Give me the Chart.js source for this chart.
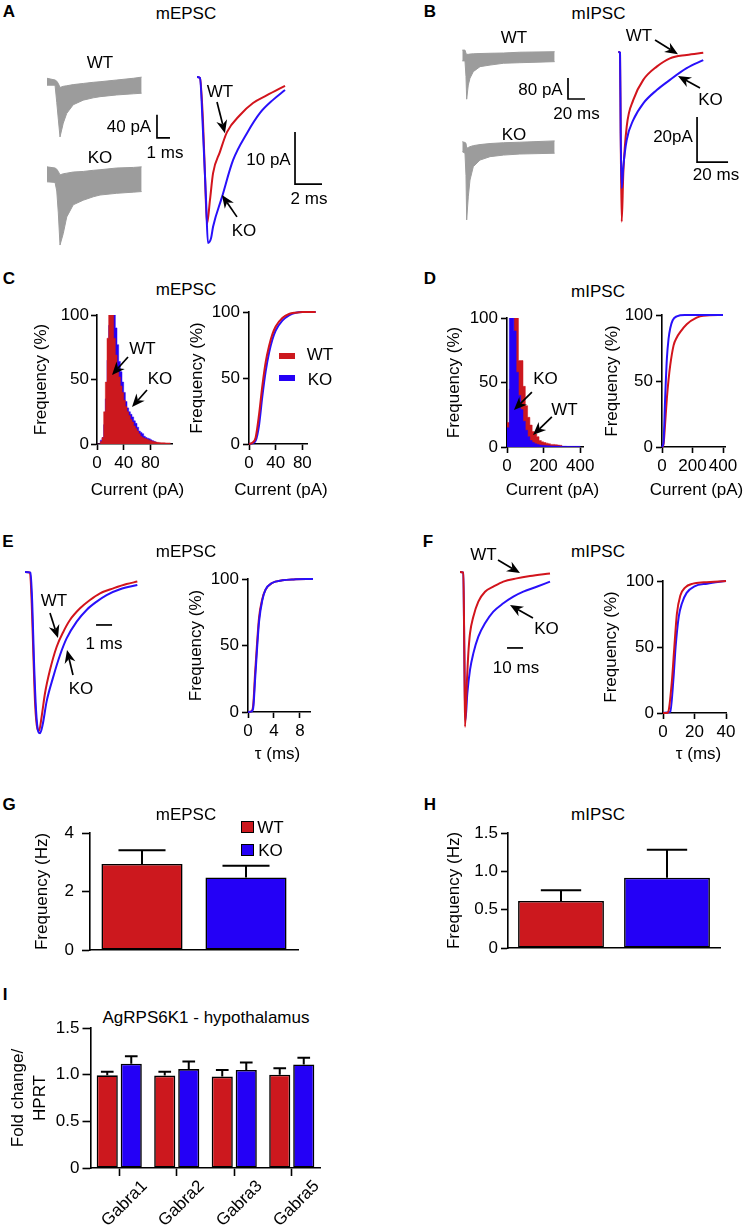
<!DOCTYPE html>
<html><head><meta charset="utf-8">
<script src="https://cdn.jsdelivr.net/npm/chart.js@4.4.1/dist/chart.umd.min.js"></script>
<style>
html,body{margin:0;padding:0;background:#fff;}
#fig{position:relative;width:747px;height:1225px;overflow:hidden;font-family:"Liberation Sans",Arial,Helvetica,sans-serif;color:#000;background:#fff;}
canvas{position:absolute;}
.t{position:absolute;transform:translate(-50%,-50%);white-space:nowrap;font-size:17px;line-height:1;}
.pl{font-weight:bold;}
.sw{position:absolute;box-sizing:border-box;}
</style></head><body><div id="fig"></div>
<script>
// ================= DATA =================
// Panel A: mEPSC example traces (time ms, current pA)
const famA_t     = [0, 0.62, 0.75, 0.87, 1.0, 1.25, 1.52, 2.02, 2.79, 3.56, 4.08, 5.36, 6.64, 7.28];
const famA_WT_hi = [3, 0, -2, -6, -13, -11, -10, -8, -6, -4, -3, 0, 3, 5];
const famA_WT_lo = [-9, -9, -39, -68, -99, -75, -58, -43, -35, -31, -29, -26, -24, -23];
const famA_KO_hi = [2, 0, -2, -6, -12, -10, -9, -7, -6, -4, -3, 0, 1, 2];
const famA_KO_lo = [-24, -25, -40, -78, -134, -114, -85, -64, -56, -50, -47, -44, -42, -41];
const avgA_WT_t  = [0, 0.22, 0.44, 0.59, 0.74, 0.96, 1.19, 1.70, 2.22, 3.19, 4.15, 5.19, 6.52];
const avgA_WT_i  = [0, -0.2, -8.3, -18.8, -28.3, -23.7, -18.5, -14.4, -10.6, -7.3, -5.0, -3.5, -1.7];
const avgA_KO_t  = [0, 0.22, 0.44, 0.67, 0.81, 1.04, 1.19, 1.85, 2.67, 3.70, 4.67, 5.63, 6.52];
const avgA_KO_i  = [0, -0.2, -10.2, -23.7, -31.9, -31.0, -28.8, -23.1, -16.0, -10.8, -6.9, -4.4, -2.5];

// Panel B: mIPSC example traces (time ms, current pA)
const famB_t     = [0.35, 3.5, 4.7, 5.5, 7.4, 9.4, 13.3, 21.2, 33, 49, 68, 109];
const famB_WT_hi = [11, 11, -1, -5, -5, -4, -3, -2, -1, 0, 3, 5];
const famB_WT_lo = [-30, -30, -90, -176, -122, -96, -71, -52, -46, -39, -37, -33];
const famB_KO_hi = [5, 2, -1, -20, -17, -14, -10, -6, -2, 1, 3, 8];
const famB_KO_lo = [-33, -39, -125, -293, -205, -141, -90, -65, -52, -46, -42, -39];
const avgB_t     = [0.2, 1.3, 1.74, 2.39, 3.42, 5.61, 9.87, 16.3, 25.0, 33.5, 44.3, 55.0];
const avgB_WT_i  = [0, -0.3, -36, -75.4, -53.9, -33.2, -21.3, -12.4, -6.5, -2.8, -1.3, -0.3];
const avgB_KO_i  = [0, -0.3, -36, -60.6, -51.0, -39.1, -30.2, -22.8, -16.9, -12.4, -7.2, -3.6];

// Panel C: mEPSC amplitude histogram (bin left edge, pA) and cumulative
const histC_bins = [0,2.5,5,7.5,10,12.5,15,17.5,20,22.5,25,27.5,30,32.5,35,37.5,40,42.5,45,47.5,50,52.5,55,57.5,60,62.5,65,67.5,70,72.5,75,77.5,80,82.5,85,87.5,90,92.5,95,97.5,100,102.5,105,107.5,110];
const histC_WT   = [0,0,2,5,25,48,82,104,118,108,82,69,58,52,45,40,34,29,25,22,19,17,14,12,10,8,6,5,4.5,4,3.5,3,2.6,2.2,1.8,1.5,1.3,1.2,1,1,0.9,0.8,0.8,0.8,0];
const histC_KO   = [0,0,3,5,15,35,65,92,106,112,100,90,77,64,56,48,40,33,28,25,23,21,18,16,13,10,9,8,6,5,4.5,4,3.2,2.6,2,1.3,0.8,0.5,0,0,0,0,0,0,0];
const cumC_x     = [0, 5, 10, 15, 20, 25, 30, 35, 40, 50, 60, 70, 80, 100];
const cumC_WT    = [0, 1, 5, 22, 44, 62, 74, 83, 89, 95.5, 98.5, 99.5, 100, 100];
const cumC_KO    = [0, 0.5, 2.5, 14, 36, 55, 69, 79, 86, 93.5, 97.5, 99.5, 100, 100];

// Panel D: mIPSC amplitude histogram and cumulative
const histD_bins = [0,12.5,25,37.5,50,62.5,75,87.5,100,112.5,125,137.5,150,162.5,175,187.5,200,212.5,225,237.5,250,262.5,275,287.5,300,312.5,325,337.5,350,362.5,375,387.5,400];
const histD_WT   = [19,45,80,105,110,67,67,47,32,23,17,12,10,8,5,4,3.5,3,2.5,2,2,1.8,1.5,1.3,0,0,0,0,0,0,0,0,0];
const histD_KO   = [15,130,140,90,58,40,29,20,13,8,5,3.5,2.6,2,1.5,1.3,1.2,1,0.9,0.8,0.8,0.7,0.7,0.6,0.6,0.6,0.5,0.5,0.5,0.5,0.5,0.5,0];
const cumD_WT_x  = [0, 5, 11, 20, 32, 43, 54, 76, 97, 119, 162, 227, 270, 400];
const cumD_WT    = [0, 0.5, 3, 17, 37, 51, 62, 77, 83, 87, 93, 98, 99.5, 100];
const cumD_KO_x  = [0, 5, 11, 20, 32, 43, 54, 70, 97, 150, 400];
const cumD_KO    = [0, 1, 5, 35, 67, 82, 90, 96, 99, 100, 100];

// Panel E: normalized mEPSC (time ms) and decay tau cumulative
const trE_WT_t = [0, 0.31, 0.42, 0.52, 0.63, 0.77, 0.88, 1.04, 1.25, 1.56, 1.98, 2.40, 2.81, 3.44, 4.06, 4.69, 5.52, 6.35, 7.02];
const trE_WT_i = [0, -0.004, -0.196, -0.508, -0.821, -0.977, -0.992, -0.904, -0.758, -0.613, -0.467, -0.373, -0.300, -0.227, -0.175, -0.133, -0.102, -0.075, -0.060];
const trE_KO_t = [0, 0.35, 0.46, 0.56, 0.69, 0.83, 0.94, 1.10, 1.35, 1.77, 2.19, 2.60, 3.23, 3.85, 4.48, 5.10, 5.94, 7.02];
const trE_KO_i = [0, -0.004, -0.217, -0.550, -0.863, -0.998, -1.008, -0.956, -0.810, -0.654, -0.519, -0.415, -0.310, -0.237, -0.185, -0.144, -0.108, -0.081];
const cumE_x   = [0, 0.5, 0.8, 1.1, 1.4, 1.7, 2.2, 2.7, 3.7, 5.3, 7, 10];
const cumE_WT  = [0, 0.5, 5, 30, 52, 71, 85, 92, 97, 99, 99.7, 100];
const cumE_KO  = [0, 0.3, 3, 25, 48, 68, 84, 92, 97, 99, 99.7, 100];

// Panel F: normalized mIPSC (time ms) and decay tau cumulative
const trF_WT_t = [0, 2.08, 2.71, 3.13, 4.17, 5.21, 6.25, 8.33, 11.46, 15.63, 20.83, 27.08, 35.42, 43.75, 56.25];
const trF_WT_i = [0, -0.004, -0.525, -0.998, -0.74, -0.525, -0.396, -0.288, -0.191, -0.127, -0.095, -0.062, -0.041, -0.026, -0.009];
const trF_KO_t = [0, 2.08, 2.71, 3.33, 4.58, 6.25, 8.33, 11.46, 15.63, 20.83, 27.08, 33.33, 39.58, 47.92, 56.25];
const trF_KO_i = [0, -0.004, -0.525, -0.96, -0.783, -0.632, -0.525, -0.417, -0.331, -0.256, -0.202, -0.159, -0.127, -0.095, -0.062];
const cumF_WT_x = [0, 2.5, 3.6, 5.7, 7.2, 8.8, 11, 14, 19, 26, 40];
const cumF_WT   = [0, 0, 2, 25, 50, 75, 89, 95, 98, 99, 100];
const cumF_KO_x = [0, 2.5, 4.6, 6.7, 8, 10, 12, 15, 20, 28, 40];
const cumF_KO   = [0, 0.3, 1, 27, 50, 73, 83, 91, 96, 98, 100];

// Panels G, H: frequency (Hz), mean and SEM
const groups = ['WT', 'KO'];
const freqG = [2.94, 2.48], semG = [0.47, 0.40];
const freqH = [0.613, 0.917], semH = [0.139, 0.366];

// Panel I: fold change / HPRT
const genes  = ['Gabra1', 'Gabra2', 'Gabra3', 'Gabra5'];
const foldWT = [0.993, 0.99, 0.98, 1.0], semWT = [0.037, 0.04, 0.07, 0.07];
const foldKO = [1.118, 1.06, 1.05, 1.11], semKO = [0.078, 0.08, 0.08, 0.07];

// Tick values
const ticksPct = [0, 50, 100];
const ticksC = [0, 40, 80];
const ticksD = [0, 200, 400];
const ticksE = [0, 4, 8];
const ticksF = [0, 20, 40];
const ticksG = [0, 2, 4];
const ticksHI = [0, 0.5, 1, 1.5];

// Scale bars (data units)
const sbA_fam = {x: 8.46, y: -100.6, dx: 1, dy: 40};
const sbA_avg = {x: 7.26, y: -20.6, dx: 2, dy: 10};
const sbB_fam = {x: 124.7, y: -175.2, dx: 20, dy: 80};
const sbB_avg = {x: 51, y: -48.9, dx: 20, dy: 20};
const sbE = {x: 4.44, y: -0.331, dx: 1, dy: 0};
const sbF = {x: 29.4, y: -0.49, dx: 10, dy: 0};

// ================= STYLE / HELPERS =================
const RED = 'rgb(204,24,30)', BLUE = 'rgb(36,0,246)', GRAY = 'rgb(156,156,156)';
const REDL = 'rgb(210,20,28)', BLUEL = 'rgb(40,16,250)';
Chart.defaults.font.family = '"Liberation Sans", Arial, Helvetica, sans-serif';
Chart.defaults.font.size = 17;
Chart.defaults.color = '#000';
Chart.defaults.animation = false;
Chart.defaults.responsive = false;
Chart.defaults.devicePixelRatio = 1;
Chart.defaults.plugins.legend.display = false;
Chart.defaults.plugins.tooltip.enabled = false;
Chart.defaults.events = [];
Chart.defaults.elements.point.radius = 0;

const arrowPlugin = {
  id: 'arrows',
  afterDatasetsDraw(chart, args, opts) {
    const items = (opts && opts.items) || [];
    if (!items.length) return;
    const {ctx} = chart; const xs = chart.scales.x, ys = chart.scales.y;
    ctx.save(); ctx.strokeStyle = '#000'; ctx.fillStyle = '#000'; ctx.lineWidth = 1.7;
    for (const a of items) {
      const x1 = xs.getPixelForValue(a.from[0]), y1 = ys.getPixelForValue(a.from[1]);
      const x2 = xs.getPixelForValue(a.to[0]), y2 = ys.getPixelForValue(a.to[1]);
      const ang = Math.atan2(y2 - y1, x2 - x1), c = Math.cos(ang), s = Math.sin(ang);
      const L = 13, W = 5.5, N = 9;
      const bx = x2 - L * c, by = y2 - L * s, nx = x2 - N * c, ny = y2 - N * s;
      ctx.beginPath(); ctx.moveTo(x1, y1); ctx.lineTo(nx, ny); ctx.stroke();
      ctx.beginPath(); ctx.moveTo(x2, y2);
      ctx.lineTo(bx + W * s, by - W * c); ctx.lineTo(nx, ny); ctx.lineTo(bx - W * s, by + W * c);
      ctx.closePath(); ctx.fill();
    }
    ctx.restore();
  }
};
const errPlugin = {
  id: 'errbars',
  afterDatasetsDraw(chart, args, opts) {
    if (!opts || !opts.errors) return;
    const {ctx} = chart; const ys = chart.scales.y;
    ctx.save(); ctx.strokeStyle = '#000'; ctx.lineWidth = 2;
    chart.data.datasets.forEach((ds, i) => {
      chart.getDatasetMeta(i).data.forEach((bar, j) => {
        const top = ys.getPixelForValue(ds.data[j] + opts.errors[i][j]);
        const w = bar.width * opts.cap;
        ctx.beginPath();
        ctx.moveTo(bar.x, bar.y); ctx.lineTo(bar.x, top);
        ctx.moveTo(bar.x - w / 2, top); ctx.lineTo(bar.x + w / 2, top);
        ctx.stroke();
      });
    });
    ctx.restore();
  }
};
Chart.register(arrowPlugin, errPlugin);

const fig = document.getElementById('fig');
function mkCanvas(L, T, W, H) {
  const c = document.createElement('canvas');
  c.width = W; c.height = H;
  c.style.left = L + 'px'; c.style.top = T + 'px'; c.style.width = W + 'px'; c.style.height = H + 'px';
  fig.appendChild(c); return c;
}
function txt(s, cx, cy, cls, rot) {
  const d = document.createElement('div'); d.className = 't' + (cls ? ' ' + cls : '');
  d.textContent = s; d.style.left = cx + 'px'; d.style.top = cy + 'px';
  if (rot) d.style.transform = 'translate(-50%,-50%) rotate(' + rot + 'deg)';
  fig.appendChild(d); return d;
}
function swatch(l, t, w, h, color, border) {
  const d = document.createElement('div'); d.className = 'sw';
  d.style.left = l + 'px'; d.style.top = t + 'px'; d.style.width = w + 'px'; d.style.height = h + 'px';
  d.style.background = color; if (border) d.style.border = '1.5px solid #000';
  fig.appendChild(d);
}
const pts = (xs, ys) => xs.map((x, i) => ({x, y: ys[i]}));
function lineDs(xs, ys, color, width, order) {
  return {data: pts(xs, ys), borderColor: color, borderWidth: width, fill: false,
          cubicInterpolationMode: 'monotone', pointRadius: 0, order: order || 0, clip: false};
}
function famDs(xs, hi, lo) {
  return [
    {data: pts(xs, hi), borderColor: GRAY, borderWidth: 1, fill: false, pointRadius: 0, tension: 0, order: 2},
    {data: pts(xs, lo), borderColor: GRAY, borderWidth: 1, fill: '-1', backgroundColor: GRAY, pointRadius: 0, tension: 0, order: 1}
  ];
}
function sbDs(sb) {
  return {data: [{x: sb.x, y: sb.y + sb.dy}, {x: sb.x, y: sb.y}, {x: sb.x + sb.dx, y: sb.y}],
          borderColor: '#000', borderWidth: 1.7, fill: false, tension: 0, pointRadius: 0, clip: false, order: 0};
}
function histDs(xs, ys, color, order) {
  return {data: pts(xs, ys), stepped: true, borderColor: color, borderWidth: 0.5, backgroundColor: color,
          fill: 'origin', pointRadius: 0, order};
}
function traceChart(box, map, datasets, arrows) {
  const c = mkCanvas(box.L, box.T, box.W, box.H);
  return new Chart(c, {
    type: 'line', data: {datasets},
    options: {
      layout: {padding: 0},
      scales: {
        x: {type: 'linear', display: false, min: (box.L - map.x0) / map.sx, max: (box.L + box.W - map.x0) / map.sx},
        y: {type: 'linear', display: false, min: (map.y0 - box.T - box.H) / map.sy, max: (map.y0 - box.T) / map.sy}
      },
      plugins: {arrows: {items: arrows || []}}
    }
  });
}
function axis(o) {
  const a = {
    type: o.type || 'linear',
    grid: Object.assign({display: true, drawOnChartArea: false, drawTicks: o.drawTicks !== false,
            tickLength: o.tl || 6, tickWidth: 1.6, tickColor: '#000'}, o.grid || {}),
    border: {display: true, color: '#000', width: 1.6},
    ticks: Object.assign({padding: o.pad == null ? 3 : o.pad, color: '#000', display: o.showTicks !== false,
            maxRotation: 0, autoSkip: false, font: {size: 17}}, o.ticks || {}),
    title: o.title ? {display: true, text: o.title, color: '#000', padding: {top: 4, bottom: 4},
            font: Object.assign({size: 17}, o.titleFont || {})} : {display: false}
  };
  if (o.min !== undefined) a.min = o.min;
  if (o.max !== undefined) a.max = o.max;
  if (o.tickVals) a.afterBuildTicks = s => { s.ticks = o.tickVals.map(v => ({value: v})); };
  return a;
}
function axisChart(box, area, type, data, xo, yo, plugins) {
  const c = mkCanvas(box.L, box.T, box.R - box.L, box.B - box.T);
  const xs = axis(xo), ys = axis(yo);
  xs.afterFit = s => { s.height = box.B - area.b; s.paddingLeft = 0; s.paddingRight = 0; };
  ys.afterFit = s => { s.width = area.l - box.L; s.paddingTop = 0; s.paddingBottom = 0; };
  return new Chart(c, {
    type, data,
    options: {
      layout: {padding: {left: 0, top: area.t - box.T, right: box.R - area.r, bottom: 0}},
      scales: {x: xs, y: ys},
      plugins: plugins || {}
    }
  });
}
const pctAxis = {min: 0, max: 100, tickVals: ticksPct, title: 'Frequency (%)', tl: 6, pad: 3};

// ================= PANEL A =================
txt('A', 9, 11, 'pl'); txt('mEPSC', 186, 12.5);
traceChart({L: 40, T: 55, W: 150, H: 100}, {x0: 47, y0: 80, sx: 13, sy: 0.575},
  [...famDs(famA_t, famA_WT_hi, famA_WT_lo), sbDs(sbA_fam)]);
traceChart({L: 40, T: 148, W: 110, H: 107}, {x0: 47, y0: 168, sx: 13, sy: 0.575},
  famDs(famA_t, famA_KO_hi, famA_KO_lo));
traceChart({L: 185, T: 60, W: 150, H: 195}, {x0: 197, y0: 77, sx: 13.5, sy: 5.2},
  [lineDs(avgA_WT_t, avgA_WT_i, REDL, 2, 2), lineDs(avgA_KO_t, avgA_KO_i, BLUEL, 2, 1), sbDs(sbA_avg)],
  [{from: [1.48, -4.8], to: [2.07, -10.8]}, {from: [2.96, -26.9], to: [1.85, -22.7]}]);
txt('WT', 100, 62); txt('KO', 100, 157);
txt('40 pA', 129, 126); txt('1 ms', 165, 152);
txt('WT', 220, 91); txt('KO', 244, 230);
txt('10 pA', 268.5, 159); txt('2 ms', 309, 198);

// ================= PANEL B =================
txt('B', 430, 11, 'pl'); txt('mIPSC', 598.5, 12.5);
traceChart({L: 455, T: 38, W: 140, H: 72}, {x0: 462, y0: 53, sx: 0.85, sy: 0.2625},
  [...famDs(famB_t, famB_WT_hi, famB_WT_lo), sbDs(sbB_fam)]);
traceChart({L: 455, T: 125, W: 110, H: 105}, {x0: 462, y0: 143, sx: 0.85, sy: 0.2625},
  famDs(famB_t, famB_KO_hi, famB_KO_lo));
traceChart({L: 605, T: 25, W: 140, H: 210}, {x0: 618, y0: 52, sx: 1.55, sy: 2.25},
  [lineDs(avgB_t, avgB_WT_i, REDL, 2, 2), lineDs(avgB_t, avgB_KO_i, BLUEL, 2, 1), sbDs(sbB_avg)],
  [{from: [23.9, 5.33], to: [38.7, -1]}, {from: [52.9, -16], to: [38.7, -10.7]}]);
txt('WT', 514, 37); txt('KO', 514, 134);
txt('80 pA', 540.5, 88.5); txt('20 ms', 576.5, 112.5);
txt('WT', 639, 35); txt('KO', 710.5, 98.5);
txt('20pA', 673, 136); txt('20 ms', 716, 174);

// ================= PANEL C =================
txt('C', 9, 278, 'pl'); txt('mEPSC', 186, 289);
axisChart({L: 27, T: 300, R: 180, B: 503}, {l: 97, t: 315, r: 172, b: 444}, 'line',
  {datasets: [histDs(histC_bins, histC_WT, RED, 1), histDs(histC_bins, histC_KO, BLUE, 2)]},
  {min: 0, max: 112.5, tickVals: ticksC},
  Object.assign({}, pctAxis, {pad: 2}),
  {arrows: {items: [{from: [46.5, 67.4], to: [22.5, 53.5]}, {from: [75, 41.9], to: [52.5, 28.7]}]}});
txt('WT', 142.5, 347.5); txt('KO', 160, 377.5);
txt('Current (pA)', 137.5, 488.5);
axisChart({L: 183, T: 300, R: 345, B: 503}, {l: 249, t: 312, r: 307, b: 444}, 'line',
  {datasets: [lineDs(cumC_x, cumC_WT, REDL, 2, 1), lineDs(cumC_x, cumC_KO, BLUEL, 2, 2)]},
  {min: 0, max: 87, tickVals: ticksC}, pctAxis);
txt('Current (pA)', 281, 488.5);
swatch(279, 353, 16, 6, RED); txt('WT', 320, 354);
swatch(279, 375, 16, 6, BLUE); txt('KO', 320, 379);

// ================= PANEL D =================
txt('D', 430, 278, 'pl'); txt('mIPSC', 598, 291);
axisChart({L: 440, T: 305, R: 595, B: 503}, {l: 507, t: 318, r: 583, b: 447}, 'line',
  {datasets: [histDs(histD_bins, histD_WT, RED, 2), histDs(histD_bins, histD_KO, BLUE, 1)]},
  {min: 0, max: 415, tickVals: ticksD}, pctAxis,
  {arrows: {items: [{from: [136, 42.6], to: [38, 28.7]}, {from: [245, 23.3], to: [142, 9.3]}]}});
txt('KO', 545.5, 377.5); txt('WT', 564.5, 409);
txt('Current (pA)', 552.5, 488.5);
axisChart({L: 598, T: 300, R: 745, B: 503}, {l: 662, t: 315, r: 725, b: 447}, 'line',
  {datasets: [lineDs(cumD_WT_x, cumD_WT, REDL, 2, 2), lineDs(cumD_KO_x, cumD_KO, BLUEL, 2, 1)]},
  {min: 0, max: 413, tickVals: ticksD}, pctAxis);
txt('Current (pA)', 696.5, 488.5);

// ================= PANEL E =================
txt('E', 8, 541, 'pl'); txt('mEPSC', 186, 551);
traceChart({L: 15, T: 555, W: 130, H: 190}, {x0: 25, y0: 572, sx: 16, sy: 160},
  [lineDs(trE_WT_t, trE_WT_i, REDL, 2, 2), lineDs(trE_KO_t, trE_KO_i, BLUEL, 2, 1), sbDs(sbE)],
  [{from: [1.5625, -0.256], to: [2.0625, -0.4125]}, {from: [3.0, -0.644], to: [2.625, -0.4875]}]);
txt('WT', 54, 599.5); txt('KO', 81, 688); txt('1 ms', 104, 642.5);
axisChart({L: 182, T: 565, R: 330, B: 767}, {l: 248, t: 579, r: 310, b: 712}, 'line',
  {datasets: [lineDs(cumE_x, cumE_WT, REDL, 2, 2), lineDs(cumE_x, cumE_KO, BLUEL, 2, 1)]},
  {min: 0, max: 9.54, tickVals: ticksE}, pctAxis);
txt('τ (ms)', 277.5, 753);

// ================= PANEL F =================
txt('F', 428, 541, 'pl'); txt('mIPSC', 598, 551);
traceChart({L: 450, T: 545, W: 110, H: 195}, {x0: 460, y0: 572, sx: 1.6, sy: 155},
  [lineDs(trF_WT_t, trF_WT_i, REDL, 2, 1), lineDs(trF_KO_t, trF_KO_i, BLUEL, 2, 2), sbDs(sbF)],
  [{from: [23.75, 0.0774], to: [37.5, -0.0065]}, {from: [45.6, -0.297], to: [31.25, -0.213]}]);
txt('WT', 483.5, 554); txt('KO', 546.5, 627.5); txt('10 ms', 516, 666.5);
axisChart({L: 597, T: 565, R: 745, B: 767}, {l: 663, t: 581, r: 726, b: 713}, 'line',
  {datasets: [lineDs(cumF_WT_x, cumF_WT, REDL, 2, 1), lineDs(cumF_KO_x, cumF_KO, BLUEL, 2, 2)]},
  {min: 0, max: 40, tickVals: ticksF}, pctAxis);
txt('τ (ms)', 698.5, 753);

// ================= PANEL G =================
txt('G', 9, 804, 'pl'); txt('mEPSC', 186, 814);
axisChart({L: 28, T: 815, R: 310, B: 960}, {l: 90, t: 833, r: 298, b: 950}, 'bar',
  {labels: groups, datasets: [{data: freqG, backgroundColor: [RED, BLUE], borderColor: '#000', borderWidth: 1.6,
    borderSkipped: false, categoryPercentage: 1, barPercentage: 0.78}]},
  {type: 'category', drawTicks: false, showTicks: false},
  {min: 0, max: 4, tickVals: ticksG, title: 'Frequency (Hz)', tl: 8, pad: 8},
  {errbars: {errors: [semG], cap: 0.58}});
swatch(241, 821, 12.5, 12, RED, true); txt('WT', 270.5, 826.5);
swatch(241, 844, 12.5, 12, BLUE, true); txt('KO', 270.5, 850);

// ================= PANEL H =================
txt('H', 430, 804, 'pl'); txt('mIPSC', 598, 814);
axisChart({L: 440, T: 815, R: 735, B: 958}, {l: 508, t: 833, r: 720, b: 948}, 'bar',
  {labels: groups, datasets: [{data: freqH, backgroundColor: [RED, BLUE], borderColor: '#000', borderWidth: 1.6,
    borderSkipped: false, categoryPercentage: 1, barPercentage: 0.81}]},
  {type: 'category', drawTicks: false, showTicks: false},
  {min: 0, max: 1.5, tickVals: ticksHI, title: 'Frequency (Hz)', tl: 7, pad: 3,
   ticks: {callback: v => v === 0 ? '0' : v.toFixed(1)}},
  {errbars: {errors: [semH], cap: 0.47}});

// ================= PANEL I =================
txt('I', 5, 994, 'pl'); txt('AgRPS6K1 - hypothalamus', 206, 1017);
const boxI = {L: 3, T: 1015, R: 340, B: 1225};
const chI = axisChart(boxI, {l: 90.5, t: 1028, r: 320.5, b: 1168}, 'bar',
  {labels: genes, datasets: [
    {data: foldWT, backgroundColor: RED, borderColor: '#000', borderWidth: 1.6, borderSkipped: false,
     categoryPercentage: 0.835, barPercentage: 0.88},
    {data: foldKO, backgroundColor: BLUE, borderColor: '#000', borderWidth: 1.6, borderSkipped: false,
     categoryPercentage: 0.835, barPercentage: 0.88}]},
  {type: 'category', tl: 8, showTicks: false, grid: {offset: false}},
  {min: 0, max: 1.5, tickVals: ticksHI, title: ['Fold change/', 'HPRT'], titleFont: {lineHeight: 1.3}, tl: 8, pad: 3,
   ticks: {callback: v => v === 0 ? '0' : v.toFixed(1)}},
  {errbars: {errors: [semWT, semKO], cap: 0.6}});
// rotated category labels placed at the library's tick positions
genes.forEach((g, i) => {
  txt(g, boxI.L + chI.scales.x.getPixelForValue(i) + 4.5, 1203, null, -45);
});
</script></body></html>
